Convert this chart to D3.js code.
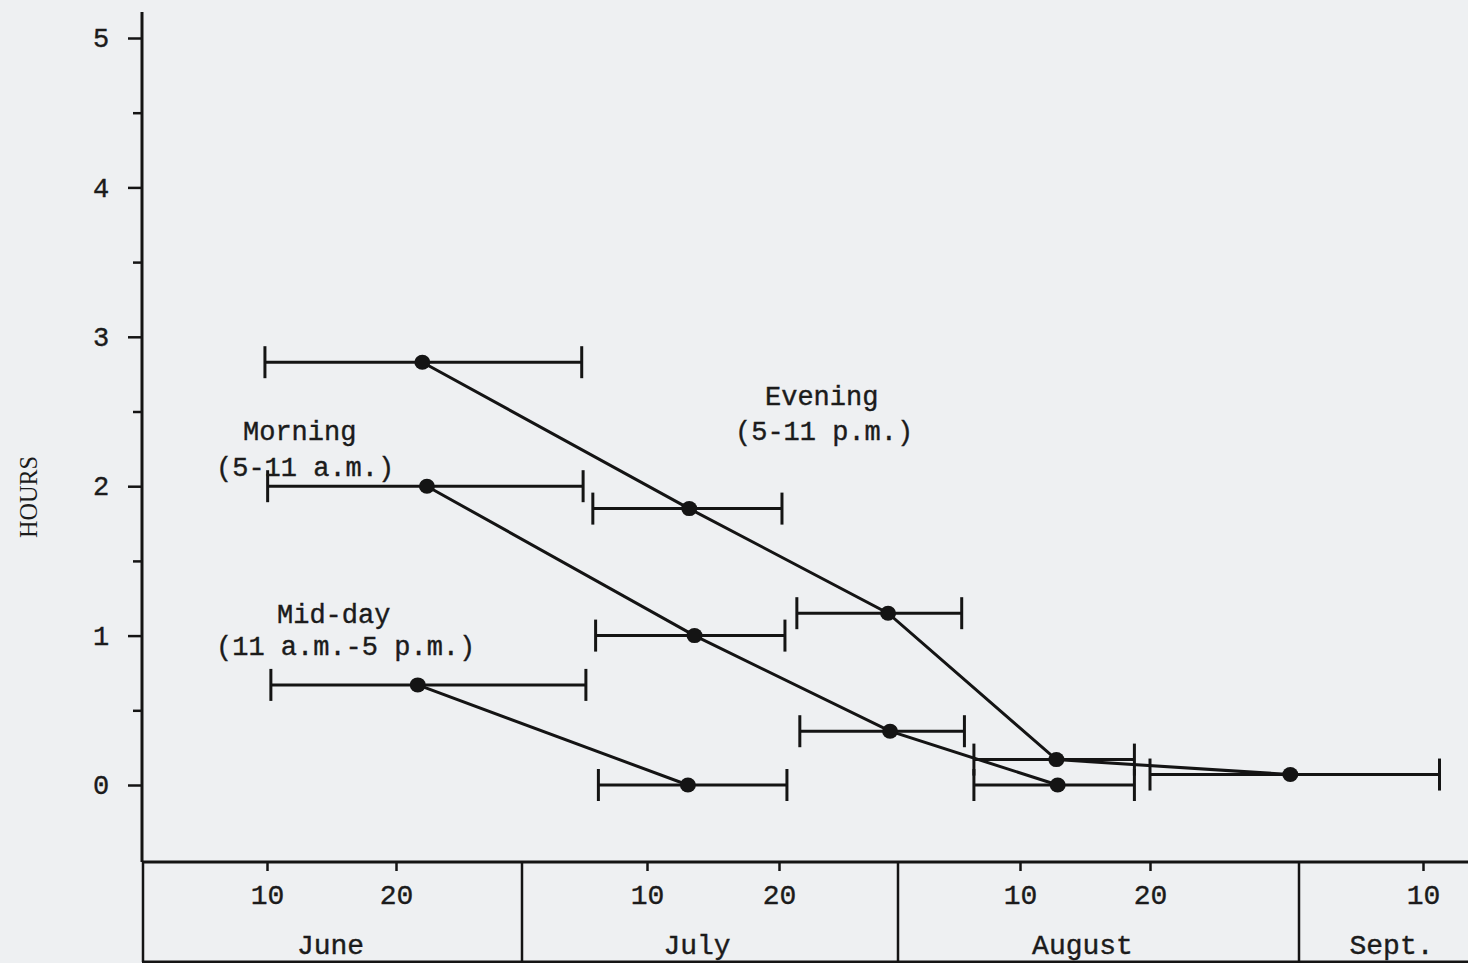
<!DOCTYPE html>
<html>
<head>
<meta charset="utf-8">
<script src="https://cdn.jsdelivr.net/npm/d3@7"></script>
<style>
  html, body { margin: 0; padding: 0; background: #eef0f2; }
  svg { display: block; }
  .lbl { font-family: "Liberation Mono", "DejaVu Sans Mono", monospace; fill: #1b1b1b; stroke: #1b1b1b; stroke-width: 0.4px; }
</style>
</head>
<body>
<div id="chart"></div>
<script>
// days are counted through the season: June 1 = 1, July 1 = 31, Aug 1 = 62, Sept 1 = 93
var months = ['June', 'July', 'August', 'Sept.'];
var monthStart = [1, 31, 62, 93];
var dayTicks = [10, 20, 40, 50, 71, 81, 102];
var dayTickLabels = ['10', '20', '10', '20', '10', '20', '10'];
var hourTicks = [0, 1, 2, 3, 4, 5];

// each sample: mid date, first and last date of the period, mean hours
var eveningDay  = [22.3, 43.2, 61.0, 73.8, 92.3];
var eveningFrom = [9.85, 36.1, 51.8, 67.6, 81.0];
var eveningTo   = [35.3, 50.3, 66.7, 79.8, 103.2];
var eveningHrs  = [2.83, 1.85, 1.15, 0.17, 0.07];

var morningDay  = [22.7, 43.6, 61.2, 73.9];
var morningFrom = [10.05, 36.3, 52.1, 67.6];
var morningTo   = [35.4, 50.6, 66.9, 79.8];
var morningHrs  = [2.0, 1.0, 0.36, 0.0];

var middayDay  = [21.9, 43.1];
var middayFrom = [10.3, 36.5];
var middayTo   = [35.6, 50.8];
var middayHrs  = [0.67, 0.0];

var W = 1468, H = 963;
var svg = d3.select('#chart').append('svg')
  .attr('width', W)
  .attr('height', H);

// the hand drawn day scale is not quite even, so it is piecewise
var x = d3.scaleLinear()
  .domain([1, 10, 20, 31, 40, 50, 62, 71, 81, 93, 102, 106])
  .range([143, 267, 396, 522, 647, 779, 898, 1020, 1150, 1299, 1423, 1478]);
var y = d3.scaleLinear().domain([0, 5]).range([785, 38]);

var ink = '#141414';
var boxTop = 862, boxBottom = 962;

// y axis
svg.append('line')
  .attr('x1', 142).attr('x2', 142)
  .attr('y1', 12).attr('y2', boxTop)
  .style('stroke', ink).style('stroke-width', 3);

var yMinor = svg.append('g')
  .attr('transform', 'translate(142,0)')
  .call(d3.axisLeft(y).tickValues([0.5, 1.5, 2.5, 3.5, 4.5]).tickSize(9).tickFormat(''));
var yAxis = svg.append('g')
  .attr('transform', 'translate(142,0)')
  .call(d3.axisLeft(y).tickValues(hourTicks).tickSize(14).tickPadding(27).tickFormat(d3.format('d')));
[yMinor, yAxis].forEach(function(g){
  g.select('.domain').remove();
  g.selectAll('.tick line').style('stroke', ink).style('stroke-width', 2.5);
});
yAxis.selectAll('.tick text')
  .attr('class', 'lbl')
  .attr('text-anchor', 'middle')
  .style('font-size', '27px');

svg.append('text')
  .attr('transform', 'translate(37,497) rotate(-90)')
  .attr('text-anchor', 'middle')
  .attr('textLength', 82)
  .attr('lengthAdjust', 'spacingAndGlyphs')
  .style('font-family', '"Liberation Serif", serif')
  .style('font-size', '25px')
  .style('fill', '#1b1b1b')
  .text('HOURS');

// date box under the plot
var box = svg.append('g');
box.append('line')
  .attr('x1', 142).attr('x2', W)
  .attr('y1', boxTop).attr('y2', boxTop)
  .style('stroke', ink).style('stroke-width', 3);
box.append('line')
  .attr('x1', 142).attr('x2', W)
  .attr('y1', boxBottom).attr('y2', boxBottom)
  .style('stroke', ink).style('stroke-width', 3);
box.selectAll('.divider')
  .data(monthStart)
  .enter()
  .append('line')
  .attr('class', 'divider')
  .attr('x1', function(d){ return x(d); })
  .attr('x2', function(d){ return x(d); })
  .attr('y1', boxTop).attr('y2', boxBottom)
  .style('stroke', ink).style('stroke-width', 2.5);

var xAxis = box.append('g')
  .attr('transform', 'translate(0,' + boxTop + ')')
  .call(d3.axisBottom(x).tickValues(dayTicks).tickSize(9).tickPadding(13)
    .tickFormat(function(d, i){ return dayTickLabels[i]; }));
xAxis.select('.domain').remove();
xAxis.selectAll('.tick line').style('stroke', ink).style('stroke-width', 2.5);
xAxis.selectAll('.tick text')
  .attr('class', 'lbl')
  .attr('dy', '0.71em')
  .style('font-size', '28px');

// month names sit a little off the box centres in the original
var monthNudge = [-2, -13, -16, 8];
box.selectAll('.month')
  .data(months)
  .enter()
  .append('text')
  .attr('class', 'lbl month')
  .attr('text-anchor', 'middle')
  .attr('x', function(d, i){
    var a = x(monthStart[i]);
    var b = i < months.length - 1 ? x(monthStart[i + 1]) : W;
    return (a + b) / 2 + monthNudge[i];
  })
  .attr('y', 954)
  .style('font-size', '28px')
  .text(function(d){ return d; });

// series
function pack(day, from, to, hrs){
  return day.map(function(d, i){
    return {day: d, from: from[i], to: to[i], hrs: hrs[i]};
  });
}
var series = [
  pack(eveningDay, eveningFrom, eveningTo, eveningHrs),
  pack(morningDay, morningFrom, morningTo, morningHrs),
  pack(middayDay, middayFrom, middayTo, middayHrs)
];

var line = d3.line()
  .x(function(d){ return x(d.day); })
  .y(function(d){ return y(d.hrs); });

var cap = 16;
series.forEach(function(pts){
  var g = svg.append('g');
  var bars = g.selectAll('.bar')
    .data(pts)
    .enter()
    .append('g')
    .attr('class', 'bar');
  bars.append('line')
    .attr('x1', function(d){ return x(d.from); })
    .attr('x2', function(d){ return x(d.to); })
    .attr('y1', function(d){ return y(d.hrs); })
    .attr('y2', function(d){ return y(d.hrs); })
    .style('stroke', ink).style('stroke-width', 3);
  ['from', 'to'].forEach(function(k){
    bars.append('line')
      .attr('x1', function(d){ return x(d[k]); })
      .attr('x2', function(d){ return x(d[k]); })
      .attr('y1', function(d){ return y(d.hrs) - cap; })
      .attr('y2', function(d){ return y(d.hrs) + cap; })
      .style('stroke', ink).style('stroke-width', 3);
  });
  g.append('path')
    .datum(pts)
    .attr('d', line)
    .style('fill', 'none')
    .style('stroke', ink)
    .style('stroke-width', 3);
  g.selectAll('.dot')
    .data(pts)
    .enter()
    .append('ellipse')
    .attr('class', 'dot')
    .attr('cx', function(d){ return x(d.day); })
    .attr('cy', function(d){ return y(d.hrs); })
    .attr('rx', 8)
    .attr('ry', 7.5)
    .style('fill', ink);
});

// series names, typed beside the curves
var notes = [
  {t: 'Morning', x: 243, y: 440},
  {t: '(5-11 a.m.)', x: 216, y: 476},
  {t: 'Mid-day', x: 277, y: 623},
  {t: '(11 a.m.-5 p.m.)', x: 216, y: 655},
  {t: 'Evening', x: 765, y: 405},
  {t: '(5-11 p.m.)', x: 735, y: 440}
];
svg.selectAll('.note')
  .data(notes)
  .enter()
  .append('text')
  .attr('class', 'lbl note')
  .attr('x', function(d){ return d.x; })
  .attr('y', function(d){ return d.y; })
  .style('font-size', '27px')
  .text(function(d){ return d.t; });
</script>
</body>
</html>
